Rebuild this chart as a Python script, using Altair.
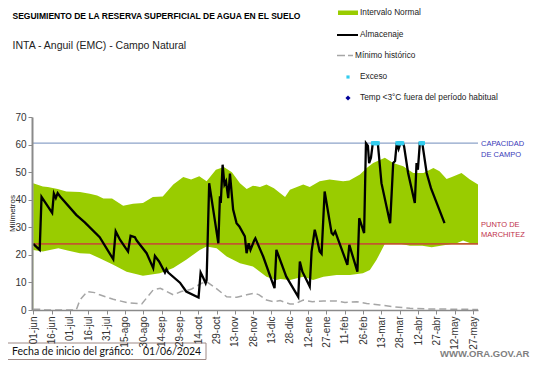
import altair as alt
import pandas as pd

F = "Liberation Sans"

TICK_LABELS = ["01-jun", "16-jun", "01-jul", "16-jul", "31-jul", "15-ago", "30-ago",
               "14-sep", "29-sep", "14-oct", "29-oct", "13-nov", "28-nov", "13-dic",
               "28-dic", "12-ene", "27-ene", "11-feb", "26-feb", "13-mar", "28-mar",
               "12-abr", "27-abr", "12-may", "27-may"]
TICK_DAYS = list(range(0, 361, 15))
Y_TICKS = [0, 10, 20, 30, 40, 50, 60, 70]

CAPACIDAD = 60.5
MARCHITEZ = 24.0

# Almacenaje (days since 01/06/2024, mm)
ALM_DAY = [0, 5.3, 6.8, 15.5, 16.9, 18.5, 20, 22, 35.2, 42.2, 54.4, 65.5, 67.5, 71, 77.6,
           79.7, 83.2, 84.7, 92.8, 98.2, 99.6, 103, 107.8, 109, 110.5, 120.1, 125.2, 135.3,
           137, 139.3, 141.1, 141.9, 144, 151.5, 152.8, 153.5, 155, 156.5, 157.8, 159.6,
           161, 163.6, 166.4, 168.7, 173.2, 174.6, 176.3, 177.8, 180.8, 181.8, 188.2, 195,
           197.5, 199, 207.1, 216.9, 218.2, 220.3, 226.3, 227.8, 230.4, 232.4, 234.4, 236,
           238.5, 244.2, 245.5, 247.1, 257.1, 258.7, 265.3, 266.8, 270.8, 272.3, 273.9,
           274.9, 276.4, 277.9, 282, 285, 292.1, 294.6, 296.1, 297.5, 299, 300.5, 302.5,
           303.5, 306.8, 312.3, 313.7, 314.8, 316.4, 318.4, 322, 325.5, 336.6]
ALM_MM = [24.0, 21.8, 41.0, 35.2, 42.2, 40.6, 42.4, 41.2, 34.5, 31.8, 26.4, 18.4, 28.5, 25.5,
          21.2, 26.9, 26.4, 25.2, 20.6, 15.2, 19.6, 17.6, 13.6, 14.8, 13.6, 9.9, 6.7, 4.5,
          13.6, 11.5, 9.7, 10.9, 46.0, 24.2, 41.2, 38.8, 52.7, 45.5, 46.7, 40.6, 49.5, 36.4,
          31.5, 30.3, 26.7, 20.6, 24.2, 21.8, 25.2, 26.0, 19.4, 10.9, 7.9, 21.8, 12.1, 4.8,
          17.6, 13.9, 8.5, 21.2, 29.1, 25.5, 21.2, 20.4, 43.0, 27.9, 27.3, 28.5, 16.4, 23.6,
          13.9, 33.3, 27.9, 60.5, 59.5, 53.3, 55.2, 60.5, 60.5, 46.0, 31.5, 53.3, 54.0, 60.5,
          58.4, 60.5, 60.5, 59.4, 49.7, 38.8, 53.3, 50.9, 60.5, 60.5, 49.7, 44.2, 31.5]

# Intervalo normal, upper limit
UP_DAY = [0, 7.8, 11.9, 20, 27.1, 38.2, 46.3, 52.3, 57.4, 64.5, 73.6, 81.7, 89.8, 97.9, 106,
          114.6, 122.8, 129.2, 135.9, 141.9, 149.5, 156, 162.6, 169.2, 174.7, 179.8, 185.6,
          190.9, 197, 206.1, 210.1, 221, 226.3, 234.4, 242.5, 253.6, 258.7, 267.4, 272.9,
          278.2, 287.8, 294.6, 302.8, 311, 319.4, 327.5, 332.5, 338.3, 342.6, 350.5, 357.4, 364]
UP_MM = [46, 44.8, 44.6, 43.9, 43, 42.8, 42.2, 41.5, 40.4, 40.4, 37.8, 38.5, 38.8, 41, 41.2,
         45.5, 48.2, 47.3, 48.5, 46.7, 50.9, 51.9, 50, 46, 43.9, 45.1, 44.6, 45.5, 44.2, 41,
         43.6, 45.5, 44.6, 46.7, 47.3, 46.7, 47, 49.1, 51.5, 53.3, 55.2, 53.3, 52.1, 49.7,
         49.7, 51.5, 50.3, 47.5, 48.2, 49.7, 47.3, 45.5]

# Intervalo normal, lower limit
LO_DAY = [0, 7.8, 20.5, 28.1, 38.2, 46.3, 54.4, 65.5, 76.4, 89.8, 103.7, 114.6, 125.2, 136.3,
          141.9, 150.1, 158.3, 169.2, 179.8, 190.9, 199, 202.1, 210.1, 220.9, 229, 237.5,
          248.3, 259.2, 269.8, 275.5, 281, 287.8, 300.2, 308.3, 318.4, 326.1, 333.5, 346.5,
          351.8, 357.8, 364]
LO_MM = [21.8, 21.2, 22.4, 21.6, 20.6, 20.4, 18.8, 16.4, 13.9, 12.4, 13.3, 15.2, 18.2, 21.8,
         23, 22.4, 19.4, 17, 15.8, 12.1, 10.9, 11.2, 10.9, 12.1, 10.9, 12.1, 12.7, 12.7, 13.3,
         14.5, 18.2, 24, 24, 23.3, 23.3, 22.8, 23.3, 24.2, 25.2, 24.2, 24]

# Minimo historico
MIN_DAY = [0, 7.8, 9.9, 35.2, 38.2, 44.3, 50.3, 54.4, 65.5, 76.6, 88.8, 98.2, 104, 114.6,
           121.1, 129.2, 137.8, 141.9, 149.5, 158.3, 166.6, 174.7, 181.4, 184.9, 190.9, 197,
           202.1, 210.1, 214.2, 221, 228.4, 237.5, 247.6, 255.1, 264.8, 272.9, 283.7, 294.6,
           308.3, 323.4, 364]
MIN_MM = [0.3, 0.3, 0, 0, 3.6, 6.7, 6.3, 5.5, 3.9, 2.7, 2.2, 7.3, 7.9, 5.5, 6.7, 7.5, 9.7,
          10.3, 7.9, 4.8, 4.6, 5.5, 6.1, 5.5, 3.6, 3.0, 3.4, 2.2, 2.2, 3.6, 3.0, 3.3, 3.3, 2.7,
          3.0, 2.4, 1.8, 1.2, 0.6, 0.4, 0.2]

# Exceso (days)
EXC_DAY = [278, 279, 280, 281, 282, 298, 299, 300, 301, 302, 317, 318, 319]

alm = pd.DataFrame({"d": ALM_DAY, "v": ALM_MM})
up = pd.DataFrame({"d": UP_DAY, "v": UP_MM})
lo = pd.DataFrame({"d": LO_DAY, "v": LO_MM})
mn = pd.DataFrame({"d": MIN_DAY, "v": MIN_MM})
exc = pd.DataFrame({"d": EXC_DAY, "v": [CAPACIDAD] * len(EXC_DAY)})

xs = alt.Scale(domain=[-1, 364], nice=False, zero=False)
ys = alt.Scale(domain=[0, 70], nice=False)

label_expr = "[" + ",".join("'%s'" % t for t in TICK_LABELS) + "][round(datum.value/15)]"

x_axis = alt.Axis(values=TICK_DAYS, labelExpr=label_expr, labelAngle=270, labelFontSize=10,
                  labelFont=F, labelColor="#333333", tickSize=4, tickColor="#8a8a8a",
                  domainColor="#8a8a8a", domainWidth=1.5, grid=False, title=None,
                  labelPadding=2, labelOverlap=False, labelFlush=False, zindex=1)
y_axis = alt.Axis(values=Y_TICKS, labelFontSize=10, labelFont=F,
                  labelColor="#333333", tickSize=4, tickColor="#8a8a8a",
                  domainColor="#8a8a8a", domainWidth=2, grid=False, title=None,
                  labelPadding=2, labelOverlap=False, labelFlush=False, zindex=1)

X = alt.X("d:Q", scale=xs, axis=x_axis)
Y = alt.Y("v:Q", scale=ys, axis=y_axis)

band_hi = alt.Chart(up).mark_area(color="#99cc00", opacity=1).encode(x=X, y=Y)
band_lo = alt.Chart(lo).mark_area(color="white", opacity=1).encode(x=X, y=Y)
min_line = alt.Chart(mn).mark_line(color="#a6a6a6", strokeWidth=1.5,
                                   strokeDash=[7, 4]).encode(x=X, y=Y)
cap_rule = alt.Chart(pd.DataFrame({"v": [CAPACIDAD]})).mark_rule(
    color="#8da3c9", strokeWidth=1.3).encode(y=Y)
mar_rule = alt.Chart(pd.DataFrame({"v": [MARCHITEZ]})).mark_rule(
    color="#c0582f", strokeWidth=1.7).encode(y=Y)
alm_line = alt.Chart(alm).mark_line(color="black", strokeWidth=2.3).encode(x=X, y=Y)
exc_pts = alt.Chart(exc).mark_square(color="#33ccee", size=16, opacity=1).encode(x=X, y=Y)

one = alt.Data(values=[{}])


def txt(s, x, y, size, color="#222222", weight="normal", font=F, align="left", angle=0):
    return alt.Chart(one).mark_text(text=s, align=align, baseline="middle", fontSize=size,
                                    font=font, color=color, fontWeight=weight,
                                    angle=angle).encode(x=alt.value(x), y=alt.value(y))


layers = [band_hi, band_lo, min_line, cap_rule, mar_rule, alm_line, exc_pts]

# titles
layers.append(txt("SEGUIMIENTO DE LA RESERVA SUPERFICIAL DE AGUA EN EL SUELO", -19.5, -101,
                  8.5, color="#000000", weight="bold"))
layers.append(txt("INTA  - Anguil (EMC) - Campo Natural", -19.5, -71, 10.5, color="#222222"))
layers.append(txt("Milímetros", -19, 96.5, 8, color="#222222", align="center", angle=270))

# right labels
layers.append(txt("CAPACIDAD", 449, 27, 7.5, color="#3a3ab8"))
layers.append(txt("DE  CAMPO", 449, 38, 7.5, color="#3a3ab8"))
layers.append(txt("PUNTO  DE", 449, 108, 7.5, color="#c0304a"))
layers.append(txt("MARCHITEZ", 449, 118, 7.5, color="#c0304a"))

# legend
layers.append(alt.Chart(one).mark_rect(color="#99cc00").encode(
    x=alt.value(306), x2=alt.value(326), y=alt.value(-106.5), y2=alt.value(-102)))
layers.append(alt.Chart(one).mark_rule(color="black", strokeWidth=2).encode(
    x=alt.value(305), x2=alt.value(326), y=alt.value(-82)))
layers.append(alt.Chart(one).mark_rule(color="#a6a6a6", strokeWidth=1.5, strokeDash=[8, 3]).encode(
    x=alt.value(305), x2=alt.value(321), y=alt.value(-61.5)))
layers.append(alt.Chart(one).mark_square(color="#33ccee", size=10, opacity=1).encode(
    x=alt.value(316), y=alt.value(-40)))
layers.append(alt.Chart(one).mark_point(shape="diamond", filled=True, color="#000099", size=26,
                                        opacity=1).encode(x=alt.value(316), y=alt.value(-19)))
layers.append(txt("Intervalo Normal", 328, -104.5, 8.3))
layers.append(txt("Almacenaje", 328, -82, 8.3))
layers.append(txt("Mínimo histórico", 323, -61.5, 8.3))
layers.append(txt("Exceso", 328, -40, 8.3))
layers.append(txt("Temp <3°C fuera del período habitual", 328, -19, 8.3))

# bottom box
layers.append(alt.Chart(one).mark_rect(fill="white", stroke="#9e8a86", strokeWidth=1).encode(
    x=alt.value(-27), x2=alt.value(174), y=alt.value(226), y2=alt.value(242.5)))
layers.append(txt("Fecha de inicio del gráfico:", -20, 234.5, 10.5, color="#111111", font="Lato"))
layers.append(txt("01/06/2024", 111, 234.5, 10.5, color="#111111", font="Lato"))
layers.append(txt("WWW.ORA.GOV.AR", 408, 237, 9.5, color="#808080", weight="bold"))

chart = alt.layer(*layers).properties(
    width=446, height=193,
    autosize=alt.AutoSizeParams(type="none"),
    padding={"left": 24, "top": 109, "right": 55, "bottom": 50},
    background="white",
).configure_view(stroke=None)

chart.save("out.html", embed_options={"renderer": "svg", "actions": False})
